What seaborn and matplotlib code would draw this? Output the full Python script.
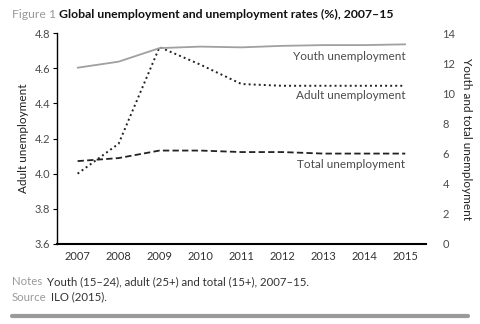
import matplotlib
matplotlib.use("Agg")
import matplotlib.pyplot as plt
import seaborn as sns
import pandas as pd
import numpy as np

years = ["2007", "2008", "2009", "2010", "2011", "2012", "2013", "2014", "2015"]
adult_rate = [4.00, 4.17, 4.72, 4.62, 4.51, 4.50, 4.50, 4.50, 4.50]
youth_rate = [11.7, 12.1, 13.0, 13.1, 13.05, 13.15, 13.2, 13.2, 13.25]
total_rate = [5.5, 5.7, 6.2, 6.2, 6.1, 6.1, 6.0, 6.0, 6.0]

left_ticks = [3.6, 3.8, 4.0, 4.2, 4.4, 4.6, 4.8]
right_ticks = [0, 2, 4, 6, 8, 10, 12, 14]

sns.set_theme(style="white")
plt.rcParams["font.family"] = ["Lato", "DejaVu Sans"]

df = pd.DataFrame({
    "x": np.arange(len(years)),
    "adult": adult_rate,
    "youth": youth_rate,
    "total": total_rate,
})

fig = plt.figure(figsize=(4.8, 3.24), dpi=100)
ax = fig.add_axes([0.119, 0.247, 0.768, 0.651])
ax2 = ax.twinx()

sns.lineplot(data=df, x="x", y="adult", ax=ax, color="#222222",
             linestyle=(0, (1, 1.6)), linewidth=1.4)
sns.lineplot(data=df, x="x", y="youth", ax=ax2, color="#a0a0a0",
             linestyle="-", linewidth=1.3)
sns.lineplot(data=df, x="x", y="total", ax=ax2, color="#222222",
             linestyle=(0, (3.5, 1.8)), linewidth=1.3)

ax.set_xlim(-0.5, len(years) - 0.5)
ax.set_ylim(3.6, 4.8)
ax2.set_ylim(0, 14)
ax.set_yticks(left_ticks)
ax.set_yticklabels([f"{v:.1f}" for v in left_ticks])
ax2.set_yticks(right_ticks)

ax.set_xticks(np.arange(len(years)))
ax.set_xticklabels(years)
ax.set_xticks(np.arange(len(years)) + 0.5, minor=True)

label_color = "#4a4a4a"
ax.tick_params(axis="x", which="major", length=0, labelsize=8, pad=5, colors="#333333")
ax.tick_params(axis="x", which="minor", length=3, width=1, color="black", direction="out")
ax.tick_params(axis="y", length=3, width=0.8, direction="out", labelsize=8,
               colors=label_color, pad=2)
ax.tick_params(axis="y", color="black")
ax2.tick_params(axis="y", length=0, labelsize=8, colors=label_color, pad=12)

for a in (ax, ax2):
    a.set_xlabel("")
    for s in ("top", "right"):
        a.spines[s].set_visible(False)
ax2.spines["left"].set_visible(False)
ax2.spines["bottom"].set_visible(False)
ax.spines["left"].set_color("black")
ax.spines["left"].set_linewidth(1.0)
ax.spines["bottom"].set_color("black")
ax.spines["bottom"].set_linewidth(1.5)

ax.set_ylabel("Adult unemployment", fontsize=8.5, color="#222222", labelpad=4)
ax2.set_ylabel("Youth and total unemployment", fontsize=8.5, color="#222222",
               rotation=-90, labelpad=12)

# Series labels placed beneath each line at the right end
ax2.text(8.0, 12.42, "Youth unemployment", ha="right", va="center",
         fontsize=8.5, color=label_color)
ax.text(8.0, 4.445, "Adult unemployment", ha="right", va="center",
        fontsize=8.5, color=label_color)
ax2.text(8.0, 5.3, "Total unemployment", ha="right", va="center",
         fontsize=8.5, color=label_color)

# Heading, notes and source
fig.text(0.025, 0.955, "Figure 1", fontsize=8.8, color="#999999", va="center")
fig.text(0.123, 0.955, "Global unemployment and unemployment rates (%), 2007\u201315",
         fontsize=8.8, color="#111111", fontweight="bold", va="center")
fig.text(0.025, 0.13, "Notes", fontsize=8.2, color="#999999", va="center")
fig.text(0.098, 0.13, "Youth (15\u201324), adult (25+) and total (15+), 2007\u201315.",
         fontsize=8.2, color="#333333", va="center")
fig.text(0.025, 0.083, "Source", fontsize=8.2, color="#999999", va="center")
fig.text(0.106, 0.083, "ILO (2015).", fontsize=8.2, color="#333333", va="center")

fig.add_artist(plt.Line2D([0.025, 0.975], [0.025, 0.025], transform=fig.transFigure,
                          color="#9a9a9a", linewidth=3))

fig.savefig("out.png", dpi=100)
